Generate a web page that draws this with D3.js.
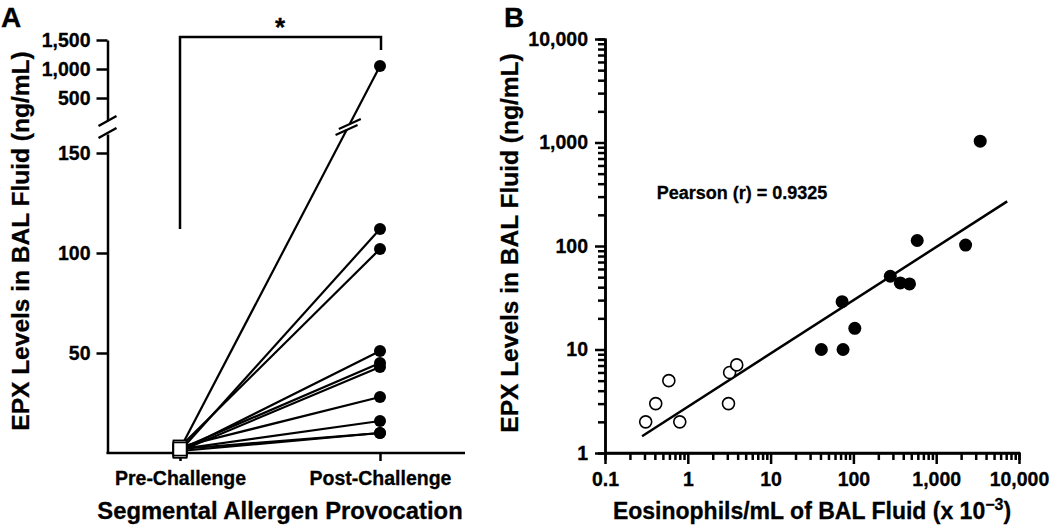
<!DOCTYPE html>
<html><head><meta charset="utf-8">
<script src="https://cdn.jsdelivr.net/npm/d3@7"></script>
<style>
body{margin:0;background:#fff}
text{font-family:"Liberation Sans",Arial,Helvetica,sans-serif;font-weight:bold;fill:#000;stroke:#000;stroke-width:0.3px}
</style>
</head><body>
<svg id="c" width="1050" height="526"></svg>
<script>
// ---------- data ----------
const groupsA = ["Pre-Challenge", "Post-Challenge"];
const preValues = [2, 1, 3, 1, 2, 1, 3, 2, 1, 2];
const postValues = [1050, 112, 102, 51, 45, 43, 28, 16, 10, 10];
const upperTicksA = [500, 1000, 1500];
const lowerTicksA = [50, 100, 150];
const openX = [0.31, 0.41, 0.59, 0.8, 3.1, 3.2, 3.9];
const openY = [2, 3, 5, 2, 3, 6, 7.1];
const filledX = [41, 75, 73, 104, 279, 368, 476, 590, 2265, 3400];
const filledY = [10, 10, 29, 16, 51, 44, 43, 113, 102, 1030];
const fitX = [0.28, 7200];
const fitY = [1.45, 270];
const ticksBx = [0.1, 1, 10, 100, 1000, 10000];
const ticksBy = [1, 10, 100, 1000, 10000];
const pearsonLabel = "Pearson (r) = 0.9325";
const yTitle = "EPX Levels in BAL Fluid (ng/mL)";
const xTitleA = "Segmental Allergen Provocation";

const svg = d3.select("#c");
const fmt = d3.format(",");
const SW = 2.5;
const TFS = 19.5;

function styleAxis(g, fs) {
  g.selectAll("path,line").attr("stroke", "#000").attr("stroke-width", SW);
  g.selectAll("text").style("font-size", fs + "px").attr("fill", "#000")
   .style("font-family", '"Liberation Sans",Arial,sans-serif').style("font-weight", "bold");
}

// ---------- Panel A ----------
const xA = d3.scalePoint().domain(groupsA).range([180, 380]);
const yLow = d3.scaleLinear().domain([0, 159.5]).range([453, 134]);
const yHigh = d3.scaleLinear().domain([121, 1500]).range([120, 40]);
const yA = v => v > 159.5 ? yHigh(v) : yLow(v);
const axA = 107.5;

const gA = svg.append("g");
const gLow = gA.append("g").attr("transform", `translate(${axA},0)`)
  .call(d3.axisLeft(yLow).tickValues(lowerTicksA).tickSize(11).tickSizeOuter(0).tickPadding(6).tickFormat(fmt));
styleAxis(gLow, TFS);
const gHigh = gA.append("g").attr("transform", `translate(${axA},0)`)
  .call(d3.axisLeft(yHigh).tickValues(upperTicksA).tickSize(11).tickSizeOuter(0).tickPadding(6).tickFormat(fmt));
styleAxis(gHigh, TFS);

// axis break marks
const brk = (cx, cy, g) => g.append("line").attr("x1", cx - 9).attr("y1", cy + 5).attr("x2", cx + 9).attr("y2", cy - 5)
  .attr("stroke", "#000").attr("stroke-width", SW);
brk(axA, yHigh.range()[0] + 1, gA);
brk(axA, yLow.range()[1] - 1, gA);

// x axis A
const gxA = gA.append("g").attr("transform", `translate(0,${yLow(0)})`)
  .call(d3.axisBottom(xA).tickSize(8).tickSizeOuter(0).tickPadding(10));
gxA.select(".domain").attr("d", `M${axA - 1},0H465`);
styleAxis(gxA, TFS);

// connecting lines
const pairs = preValues.map((p, i) => ({ pre: p, post: postValues[i] }));
gA.append("g").selectAll("line").data(pairs).join("line")
  .attr("x1", xA(groupsA[0])).attr("y1", d => yA(d.pre))
  .attr("x2", xA(groupsA[1])).attr("y2", d => yA(d.post))
  .attr("stroke", "#000").attr("stroke-width", 2.2);

// break marks on lines crossing the gap
const gapMid = (yHigh.range()[0] + yLow.range()[1]) / 2;
pairs.filter(d => d.post > 159.5).forEach(d => {
  const x1 = xA(groupsA[0]), y1 = yA(d.pre), x2 = xA(groupsA[1]), y2 = yA(d.post);
  const t = (y1 - gapMid) / (y1 - y2);
  const cx = x1 + t * (x2 - x1);
  const len = Math.hypot(x2 - x1, y2 - y1);
  const dx = (x2 - x1) / len, dy = (y2 - y1) / len;
  gA.append("line").attr("x1", cx - 3 * dx).attr("y1", gapMid - 3 * dy).attr("x2", cx + 3 * dx).attr("y2", gapMid + 3 * dy)
    .attr("stroke", "#fff").attr("stroke-width", 5);
  [-3.5, 3.5].forEach(o => {
    const px = cx + o * dx, py = gapMid + o * dy;
    gA.append("line").attr("x1", px - 11).attr("y1", py + 5).attr("x2", px + 11).attr("y2", py - 5)
      .attr("stroke", "#000").attr("stroke-width", 2.2);
  });
});

// pre squares
gA.append("g").selectAll("rect").data(preValues).join("rect")
  .attr("x", xA(groupsA[0]) - 6.5).attr("y", d => yA(d) - 6.5)
  .attr("width", 13).attr("height", 13)
  .attr("fill", "#fff").attr("stroke", "#000").attr("stroke-width", 1.5);

// post circles
gA.append("g").selectAll("circle").data(postValues).join("circle")
  .attr("cx", xA(groupsA[1])).attr("cy", d => yA(d)).attr("r", 6)
  .attr("fill", "#000");

// significance bracket
const brTop = 37;
gA.append("path")
  .attr("d", `M${xA(groupsA[0])},${yLow(112)}V${brTop}H${xA(groupsA[1]) + 1}V${brTop + 13}`)
  .attr("fill", "none").attr("stroke", "#000").attr("stroke-width", SW);
gA.append("text").attr("x", (xA(groupsA[0]) + xA(groupsA[1])) / 2).attr("y", brTop - 1)
  .attr("text-anchor", "middle").style("font-size", "26px").text("*");

// titles A
gA.append("text").attr("x", 1).attr("y", 27).style("font-size", "28px").text("A");
gA.append("text").attr("transform", `translate(29,241) rotate(-90)`).attr("text-anchor", "middle")
  .style("font-size", "24.5px").text(yTitle);
gA.append("text").attr("x", 280).attr("y", 519).attr("text-anchor", "middle")
  .style("font-size", "23.8px").text(xTitleA);

// ---------- Panel B ----------
const xB = d3.scaleLog().domain([0.1, 10000]).range([605, 1019]);
const yB = d3.scaleLog().domain([1, 10000]).range([453, 39]);
const gB = svg.append("g");

const minorX = xB.ticks().filter(v => !ticksBx.some(t => Math.abs(t - v) / t < 1e-6));
const minorY = yB.ticks().filter(v => !ticksBy.some(t => Math.abs(t - v) / t < 1e-6));

const gxBm = gB.append("g").attr("transform", `translate(0,${yB(1)})`)
  .call(d3.axisBottom(xB).tickValues(minorX).tickSize(7).tickFormat(""));
styleAxis(gxBm, TFS);
const gxB = gB.append("g").attr("transform", `translate(0,${yB(1)})`)
  .call(d3.axisBottom(xB).tickValues(ticksBx).tickSize(11).tickSizeOuter(0).tickPadding(8).tickFormat(fmt));
gxB.select(".domain").attr("d", `M${xB(0.1) - 1},0H${xB(10000) + 1}`);
styleAxis(gxB, TFS);

const gyBm = gB.append("g").attr("transform", `translate(${xB(0.1)},0)`)
  .call(d3.axisLeft(yB).tickValues(minorY).tickSize(7).tickFormat(""));
styleAxis(gyBm, TFS);
const gyB = gB.append("g").attr("transform", `translate(${xB(0.1)},0)`)
  .call(d3.axisLeft(yB).tickValues(ticksBy).tickSize(10).tickSizeOuter(0).tickPadding(7).tickFormat(fmt));
styleAxis(gyB, TFS);

// fit line
gB.append("line").attr("x1", xB(fitX[0])).attr("y1", yB(fitY[0]))
  .attr("x2", xB(fitX[1])).attr("y2", yB(fitY[1]))
  .attr("stroke", "#000").attr("stroke-width", 2.5);

// points
const openPts = openX.map((x, i) => ({ x, y: openY[i] }));
const filledPts = filledX.map((x, i) => ({ x, y: filledY[i] }));
gB.append("g").selectAll("circle").data(openPts).join("circle")
  .attr("cx", d => xB(d.x)).attr("cy", d => yB(d.y)).attr("r", 6)
  .attr("fill", "#fff").attr("stroke", "#000").attr("stroke-width", 1.6);
gB.append("g").selectAll("circle").data(filledPts).join("circle")
  .attr("cx", d => xB(d.x)).attr("cy", d => yB(d.y)).attr("r", 6.5)
  .attr("fill", "#000");

// texts B
gB.append("text").attr("x", 742).attr("y", 199).attr("text-anchor", "middle")
  .style("font-size", "18px").text(pearsonLabel);
gB.append("text").attr("x", 504).attr("y", 27).style("font-size", "28px").text("B");
gB.append("text").attr("transform", `translate(518,243) rotate(-90)`).attr("text-anchor", "middle")
  .style("font-size", "24.5px").text(yTitle);
const xt = gB.append("text").attr("x", 812).attr("y", 519).attr("text-anchor", "middle").style("font-size", "23px");
xt.append("tspan").text("Eosinophils/mL of BAL Fluid (x 10");
xt.append("tspan").attr("dy", -9).style("font-size", "16px").text("\u22123");
xt.append("tspan").attr("dy", 9).text(")");
</script>
</body></html>
